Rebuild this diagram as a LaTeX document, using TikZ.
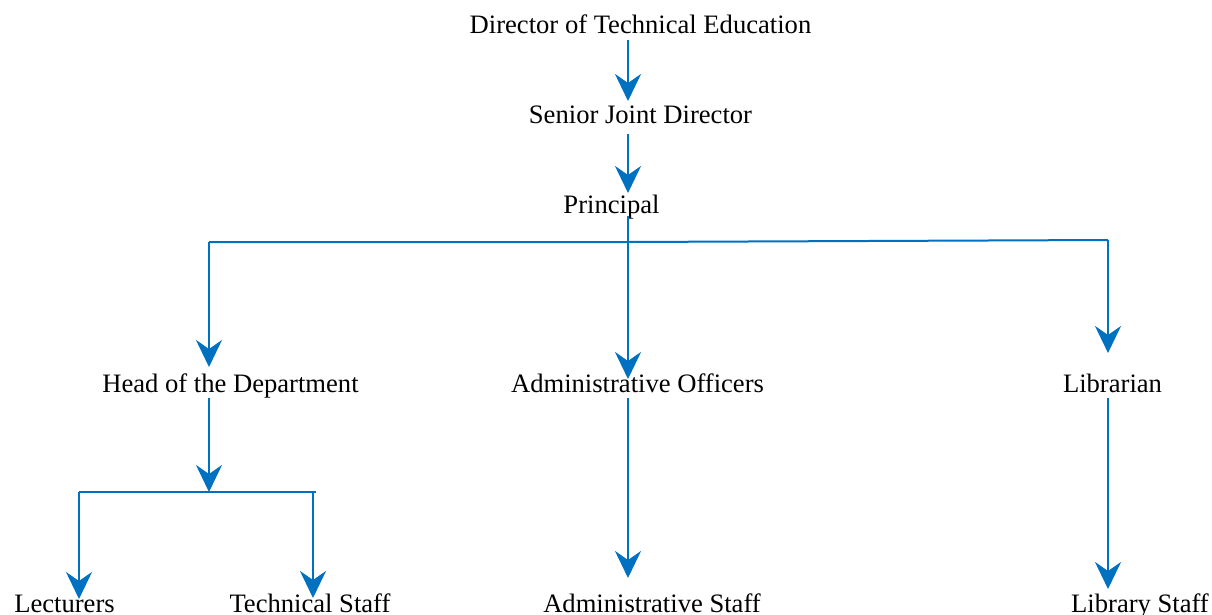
\documentclass[tikz,border=0pt]{standalone}
\usepackage{fontspec}
\setmainfont{Liberation Serif}
\usetikzlibrary{arrows.meta}
\definecolor{linkblue}{HTML}{0070C0}
\begin{document}
\begin{tikzpicture}[x=1pt,y=-1pt,
  lbl/.style={anchor=base,inner sep=0pt,font=\fontsize{26.6}{30}\selectfont},
  arr/.style={draw=linkblue,line width=2.6pt,-{Stealth[length=27pt,width=26pt,inset=9pt]}},
  hline/.style={draw=linkblue,line width=2pt}]
\useasboundingbox (0,0) rectangle (1212,615);
% labels
\node[lbl] (dte) at (640.5,34) {Director of Technical Education};
\node[lbl] (sjd) at (640.5,124) {Senior Joint Director};
\node[lbl] (pri) at (611.5,213) {Principal};
\node[lbl] (hod) at (230.5,392) {Head of the Department};
\node[lbl] (ado) at (637.5,392) {Administrative Officers};
\node[lbl] (lib) at (1112.5,392) {Librarian};
\node[lbl] (lec) at (64.5,612) {Lecturers};
\node[lbl] (tec) at (310,612) {Technical Staff};
\node[lbl] (ads) at (652,612) {Administrative Staff};
\node[lbl] (lbs) at (1140,612) {Library Staff};
% connector points
\coordinate (a1s) at (628,40);  \coordinate (a1e) at (628,101);
\coordinate (a2s) at (628,134); \coordinate (a2e) at (628,193);
\coordinate (a3s) at (628,216); \coordinate (a3e) at (628,379);
\coordinate (jl) at (209,242);  \coordinate (jr) at (1108,240);
\coordinate (hode) at (209,367); \coordinate (libe) at (1108,353);
\coordinate (h1s) at (209,398); \coordinate (h1e) at (209,492);
\coordinate (jl2) at (79,492);  \coordinate (jr2) at (316,492);
\coordinate (lece) at (79,599); \coordinate (tecs) at (313,492); \coordinate (tece) at (313,598);
\coordinate (ads1) at (628,398); \coordinate (adse) at (628,578);
\coordinate (lb1) at (1108,398); \coordinate (lbse) at (1108,589);
% connectors
\draw[arr] (a1s) -- (a1e);
\draw[arr] (a2s) -- (a2e);
\draw[arr] (a3s) -- (a3e);
\draw[hline] (jl) -- (jl -| a3s) -- (jr);
\draw[arr] (jr) -- (libe);
\draw[arr] (jl) -- (hode);
\draw[arr] (h1s) -- (h1e);
\draw[hline] (jl2) -- (jr2);
\draw[arr] (jl2) -- (lece);
\draw[arr] (tecs) -- (tece);
\draw[arr] (ads1) -- (adse);
\draw[arr] (lb1) -- (lbse);
\end{tikzpicture}
\end{document}
